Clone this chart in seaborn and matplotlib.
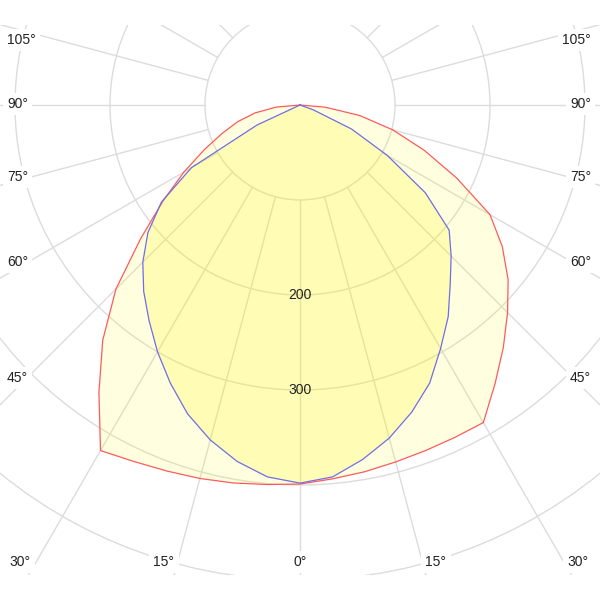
import numpy as np
import pandas as pd
import matplotlib
matplotlib.use("Agg")
import matplotlib.pyplot as plt
import seaborn as sns
from matplotlib.patches import Circle, Rectangle

# ---------------- data (luminous intensity, cd) ----------------
gamma = [0, 5, 10, 15, 20, 25, 30, 35, 40, 45, 50, 55, 60, 65, 70, 75, 80, 85, 90]
red_left = [399, 401, 404, 407, 410, 414, 420, 369, 323, 274, 219, 176, 141, 111, 87, 68, 48, 25, 0]
red_right = [399, 395, 392, 389, 387, 386, 386, 358, 333, 309, 286, 260, 231, 182, 139, 101, 64, 27, 0]
blue_left = [398, 393, 381, 365, 346, 323, 300, 277, 256, 234, 209, 178, 132, 50, 0, 0, 0, 0, 0]
blue_right = [398, 393, 379, 363, 344, 323, 296, 272, 246, 225, 205, 161, 106, 60, 15, 0, 0, 0, 0]

ring_values = [100, 200, 300, 400, 500]
ring_labels = [200, 300]
spoke_angles = list(range(-180, 181, 15))
side_labels = [105, 90, 75, 60, 45]
bottom_labels = [30, 15, 0, 15, 30]

# ---------------- layout (pixels) ----------------
W = H = 600
CX, CY = 300, 105          # pole position in pixels
PX = 0.95                  # pixels per cd
side_label_py = [40, 104, 177, 262, 378]
bottom_label_px = [20, 164, 300, 436, 578]
bottom_label_py = 562
left_label_px, right_label_px = 7, 591
grid_top_py, grid_bot_py = 25, 575
FS = 10


def to_data(px, py):
    return (px - CX) / PX, (CY - py) / PX


sns.set_theme(style="white")
plt.rcParams["font.family"] = ["Liberation Sans", "DejaVu Sans"]

fig = plt.figure(figsize=(6, 6), dpi=100)
ax = fig.add_axes([0, 0, 1, 1])

# clip box for the grid
_, ytop = to_data(0, grid_top_py)
_, ybot = to_data(0, grid_bot_py)
clip = Rectangle((-1000, ybot), 2000, ytop - ybot, transform=ax.transData)

grid_color = "#dcdcdc"
for r in ring_values:
    c = Circle((0, 0), r, fill=False, ec=grid_color, lw=1.0, zorder=1)
    ax.add_patch(c)
    c.set_clip_path(clip)

for a in spoke_angles:
    th = np.radians(a)
    ln, = ax.plot([100 * np.sin(th), 2000 * np.sin(th)],
                  [-100 * np.cos(th), -2000 * np.cos(th)],
                  color=grid_color, lw=1.0, zorder=1)
    ln.set_clip_path(clip)


def polar_df(left, right):
    g = np.array(gamma, dtype=float)
    theta = np.concatenate([-g[::-1], g[1:]])
    r = np.concatenate([np.array(left, float)[::-1], np.array(right, float)[1:]])
    t = np.radians(theta)
    return pd.DataFrame({"x": r * np.sin(t), "y": -r * np.cos(t), "order": np.arange(len(r))})


red = polar_df(red_left, red_right)
blue = polar_df(blue_left, blue_right)

ax.fill(red["x"], red["y"], color="#ffff00", alpha=0.12, lw=0, zorder=2)
ax.fill(blue["x"], blue["y"], color="#fff000", alpha=0.19, lw=0, zorder=2.1)
sns.lineplot(data=red, x="x", y="y", sort=False, estimator=None,
             color="#ff5a5a", lw=0.9, ax=ax, zorder=3)
sns.lineplot(data=blue, x="x", y="y", sort=False, estimator=None,
             color="#6e6ee6", lw=0.9, ax=ax, zorder=3.1)

# radial value labels
for v in ring_labels:
    ax.text(0, -v, str(v), ha="center", va="center", fontsize=FS,
            color="#222222", zorder=6)

box = dict(boxstyle="square,pad=0.3", fc="white", ec="none")
for lab, py in zip(side_labels, side_label_py):
    x, y = to_data(left_label_px, py)
    ax.text(x, y, f"{lab}°", ha="left", va="center", fontsize=FS,
            color="#222222", bbox=box, zorder=6)
    x, y = to_data(right_label_px, py)
    ax.text(x, y, f"{lab}°", ha="right", va="center", fontsize=FS,
            color="#222222", bbox=box, zorder=6)
for lab, px in zip(bottom_labels, bottom_label_px):
    x, y = to_data(px, bottom_label_py)
    ax.text(x, y, f"{lab}°", ha="center", va="center", fontsize=FS,
            color="#222222", bbox=box, zorder=6)

ax.set_xlim(-CX / PX, (W - CX) / PX)
ax.set_ylim(-(H - CY) / PX, CY / PX)
ax.axis("off")
fig.savefig("out.png", dpi=100, facecolor="white")
